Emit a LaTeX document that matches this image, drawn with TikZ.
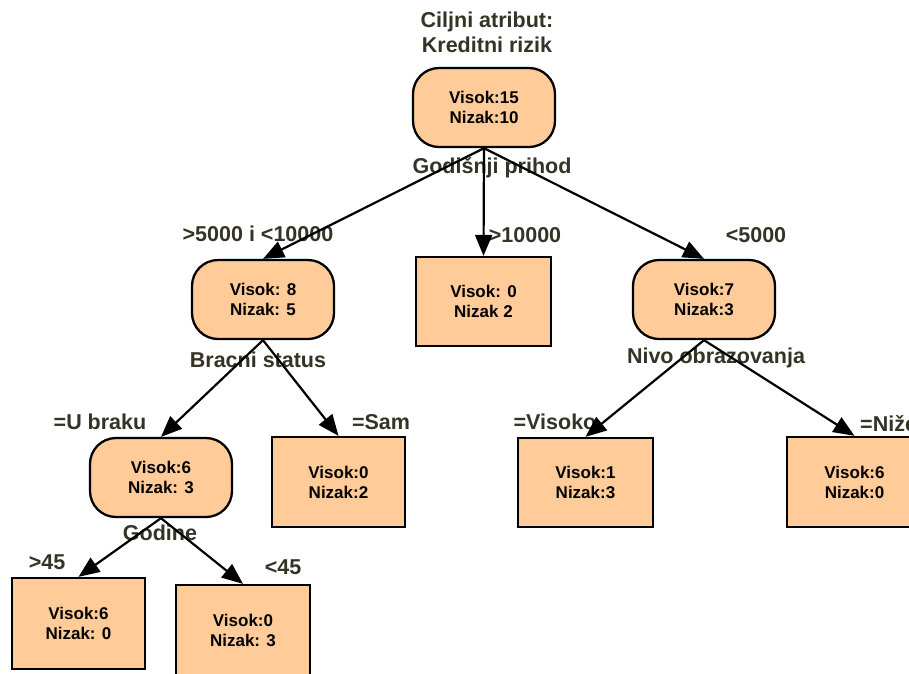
\documentclass[tikz,border=0pt]{standalone}
\usepackage{fontspec}
\setmainfont{Liberation Sans}
\usetikzlibrary{arrows.meta}
\definecolor{boxfill}{RGB}{255,204,153}
\definecolor{labelink}{RGB}{51,51,38}
\tikzset{
  splitnode/.style={draw=black, line width=2.3pt, fill=boxfill, rounded corners=26pt,
    minimum width=142pt, minimum height=79pt, inner sep=0pt,
    align=center, font=\bfseries\fontsize{17}{20}\selectfont},
  leafbox/.style={draw=black, line width=2.3pt, fill=boxfill,
    minimum width=134pt, minimum height=90pt, inner sep=0pt,
    align=center, font=\bfseries\fontsize{17}{20}\selectfont},
  attr/.style={text=labelink, inner sep=0pt, align=center,
    font=\bfseries\fontsize{21.5}{25}\selectfont},
  branch/.style={draw=black, line width=2.2pt, -{Triangle[length=21pt,width=17pt]}}
}
\begin{document}
\begin{tikzpicture}[x=1pt,y=-1pt]
\useasboundingbox (0,0) rectangle (909,673);
\clip (0,0) rectangle (909,673);

% attribute and branch captions
\node[attr] (title) at (487,32) {Ciljni atribut:\\Kreditni rizik};
\node[attr] (a1) at (492,168) {Godišnji prihod};
\node[attr] (b1) at (258,234) {>5000 i <10000};
\node[attr] (b2) at (525,235) {>10000};
\node[attr] (b3) at (756,235) {<5000};
\node[attr] (a2) at (258,360) {Bracni status};
\node[attr] (a3) at (716,358) {Nivo obrazovanja};
\node[attr] (b4) at (100,422) {=U braku};
\node[attr] (b5) at (381,422) {=Sam};
\node[attr] (b6) at (555,422) {=Visoko};
\node[attr, anchor=west] (b7) at (860,424) {=Niže};
\node[attr] (a4) at (160,533) {Godine};
\node[attr] (b8) at (47,562) {>45};
\node[attr] (b9) at (283,567) {<45};

% tree nodes
\node[splitnode] (root) at (484,107.5) {Visok:15\\Nizak:10};
\node[splitnode] (inc) at (263,299.5) {Visok: 8\\Nizak: 5};
\node[leafbox, minimum width=135pt, minimum height=89pt] (hi) at (483.5,301.5) {Visok: 0\\Nizak 2};
\node[splitnode] (low) at (704,299.5) {Visok:7\\Nizak:3};
\node[splitnode] (mar) at (161,477.5) {Visok:6\\Nizak: 3};
\node[leafbox, minimum width=133pt] (single) at (338.5,482) {Visok:0\\Nizak:2};
\node[leafbox, minimum width=135pt, minimum height=89pt] (edhi) at (585.5,482.5) {Visok:1\\Nizak:3};
\node[leafbox, minimum width=135pt] (edlo) at (854.5,482) {Visok:6\\Nizak:0};
\node[leafbox, minimum width=133pt, minimum height=91pt] (old) at (78.5,623.5) {Visok:6\\Nizak: 0};
\node[leafbox, minimum width=134pt, minimum height=91pt] (young) at (243,630.5) {Visok:0\\Nizak: 3};

% branches
\draw[branch] (root.south) -- (inc.north);
\draw[branch] (root.south) -- (hi.north);
\draw[branch] (root.south) -- (low.north);
\draw[branch] (inc.south) -- (mar.north);
\draw[branch] (inc.south) -- (single.north);
\draw[branch] (low.south) -- (edhi.north);
\draw[branch] (low.south) -- (edlo.north);
\draw[branch] (mar.south) -- (old.north);
\draw[branch] (mar.south) -- (young.north);
\end{tikzpicture}
\end{document}
